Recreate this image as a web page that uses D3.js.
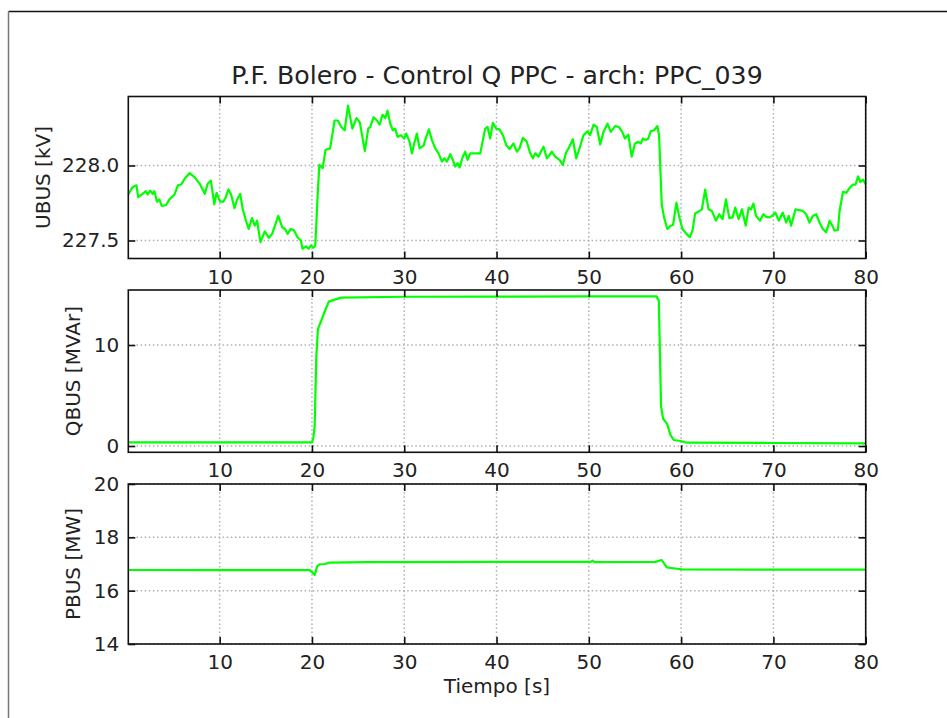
<!DOCTYPE html>
<html>
<head>
<meta charset="utf-8">
<script src="https://cdn.jsdelivr.net/npm/d3@7"></script>
<style>
  body { margin: 0; background: #fff; }
  svg { display: block; }
  text { font-family: "DejaVu Sans", sans-serif; fill: #222; }
</style>
</head>
<body>
<div id="chart"></div>
<script>
// UBUS [kV] samples: time (s) and voltage
var uTime = [0.1, 0.55, 0.99, 1.17, 1.64, 2.0, 2.19, 2.48, 2.74, 2.92, 3.21, 3.47, 3.72, 4.2, 4.56, 5.11, 5.47, 5.84, 6.2, 6.75,
  7.3, 7.85, 8.39, 8.69, 9.05, 9.42, 9.67, 10.04, 10.4, 10.66, 10.95, 11.24, 11.61, 11.86, 12.23, 12.48, 12.85, 13.14, 13.5, 13.8,
  14.05, 14.42, 14.89, 15.33, 15.69, 16.35, 16.79, 17.08, 17.37, 17.7, 18.07, 18.43, 18.8, 18.98, 19.34, 19.64, 19.89, 20.15, 20.36, 20.62,
  20.8, 21.17, 21.46, 21.97, 22.45, 22.81, 23.18, 23.54, 23.91, 24.38, 24.82, 25.18, 25.73, 26.1, 26.32, 26.68, 27.04, 27.33, 27.65, 27.94,
  28.19, 28.48, 28.77, 29.02, 29.28, 29.64, 30.0, 30.22, 30.58, 30.83, 31.08, 31.37, 31.66, 32.09, 32.38, 32.67, 33.0, 33.36, 33.72, 34.08,
  34.33, 34.62, 34.98, 35.27, 35.52, 35.78, 35.99, 36.35, 36.61, 36.86, 37.15, 37.69, 38.23, 38.77, 39.03, 39.31, 39.6, 39.96, 40.32, 40.69,
  41.05, 41.41, 41.84, 42.2, 42.49, 42.85, 43.28, 43.65, 43.94, 44.19, 44.55, 44.8, 45.09, 45.45, 45.74, 45.99, 46.35, 46.82, 47.18, 47.55,
  47.8, 47.98, 48.27, 48.63, 48.99, 49.42, 49.86, 50.14, 50.51, 50.87, 51.23, 51.59, 52.02, 52.38, 52.85, 53.26, 53.62, 53.91, 54.28, 54.64,
  55.0, 55.36, 55.62, 55.87, 56.16, 56.45, 56.7, 57.07, 57.43, 57.61, 57.9, 58.15, 58.51, 58.88, 59.13, 59.49, 59.78, 60.14, 60.58, 60.94,
  61.23, 61.52, 61.88, 62.25, 62.61, 62.97, 63.33, 63.77, 64.13, 64.49, 64.86, 65.22, 65.58, 65.87, 66.23, 66.59, 67.0, 67.32, 67.57, 67.83,
  68.12, 68.55, 68.91, 69.2, 69.57, 69.86, 70.22, 70.58, 71.01, 71.38, 71.67, 71.92, 72.39, 72.75, 73.19, 73.55, 73.91, 74.28, 74.64, 75.0,
  75.36, 75.72, 76.09, 76.38, 76.63, 76.99, 77.17, 77.54, 77.9, 78.26, 78.62, 78.91, 79.17, 79.42, 79.71, 80.0];
var uValue = [227.807, 227.855, 227.868, 227.789, 227.811, 227.829, 227.807, 227.833, 227.811, 227.829, 227.759, 227.774, 227.730, 227.737, 227.774, 227.807, 227.868, 227.873, 227.912, 227.950,
  227.921, 227.877, 227.811, 227.877, 227.899, 227.741, 227.818, 227.759, 227.759, 227.789, 227.840, 227.807, 227.715, 227.768, 227.811, 227.715, 227.632, 227.577, 227.649, 227.599,
  227.632, 227.489, 227.561, 227.518, 227.544, 227.664, 227.588, 227.577, 227.544, 227.577, 227.566, 227.522, 227.500, 227.445, 227.461, 227.445, 227.467, 227.452, 227.467, 227.807,
  228.004, 227.982, 228.103, 228.114, 228.300, 228.300, 228.257, 228.235, 228.399, 228.246, 228.316, 228.289, 228.096, 228.246, 228.257, 228.322, 228.300, 228.272, 228.338, 228.316,
  228.366, 228.279, 228.235, 228.246, 228.191, 228.202, 228.180, 228.213, 228.158, 228.081, 228.147, 228.213, 228.114, 228.132, 228.191, 228.241, 228.169, 228.114, 228.081, 228.026,
  228.048, 228.026, 228.075, 228.037, 227.993, 228.015, 227.987, 228.059, 228.092, 228.037, 228.081, 228.081, 228.081, 228.246, 228.257, 228.180, 228.285, 228.246, 228.241, 228.202,
  228.136, 228.110, 228.147, 228.092, 228.114, 228.184, 228.158, 228.081, 228.048, 228.081, 228.059, 228.092, 228.125, 228.048, 228.070, 228.092, 228.059, 228.037, 228.004, 228.088,
  228.114, 228.136, 228.175, 228.048, 228.114, 228.202, 228.228, 228.202, 228.272, 228.257, 228.140, 228.224, 228.279, 228.224, 228.263, 228.257, 228.224, 228.180, 228.206, 228.059,
  228.147, 228.158, 228.147, 228.180, 228.169, 228.180, 228.228, 228.235, 228.263, 228.202, 227.741, 227.654, 227.577, 227.599, 227.605, 227.752, 227.664, 227.577, 227.544, 227.522,
  227.566, 227.680, 227.693, 227.708, 227.840, 227.708, 227.697, 227.632, 227.675, 227.643, 227.774, 227.649, 227.654, 227.719, 227.643, 227.708, 227.599, 227.719, 227.708, 227.746,
  227.664, 227.632, 227.675, 227.658, 227.654, 227.664, 227.686, 227.632, 227.686, 227.620, 227.664, 227.599, 227.708, 227.702, 227.697, 227.675, 227.620, 227.664, 227.675, 227.620,
  227.577, 227.555, 227.632, 227.599, 227.566, 227.570, 227.697, 227.825, 227.818, 227.851, 227.873, 227.873, 227.928, 227.890, 227.906, 227.873];

// QBUS [MVAr] samples
var qTime = [0.1, 5, 10, 15, 20.0, 20.15, 20.29, 20.47, 20.65, 21.0, 21.37, 21.83, 22.45, 23.17, 30, 40, 50, 57.33, 57.58, 57.69,
  57.83, 58.05, 58.48, 58.84, 59.2, 59.93, 60.65, 70, 80];
var qValue = [0.36, 0.36, 0.37, 0.36, 0.36, 0.8, 1.9, 8.8, 11.6, 12.4, 13.3, 14.3, 14.5, 14.7, 14.78, 14.8, 14.82, 14.82, 14.4, 9.8,
  3.9, 2.7, 2.2, 1.1, 0.6, 0.5, 0.33, 0.3, 0.26];

// PBUS [MW] samples
var pTime = [0.1, 10, 19.75, 20.2, 20.3, 20.55, 20.83, 21.4, 21.9, 26, 40, 50.2, 50.4, 50.6, 57.2, 57.9, 58.44, 59.35, 60.05, 70, 80];
var pValue = [16.775, 16.77, 16.775, 16.63, 16.59, 16.9, 16.99, 17.0, 17.05, 17.07, 17.08, 17.08, 17.13, 17.07, 17.08, 17.15, 16.875, 16.83, 16.8, 16.79, 16.79];

var xTicks = [10, 20, 30, 40, 50, 60, 70, 80];
var uTicks = [227.5, 228.0];
var qTicks = [0, 10];
var pTicks = [14, 16, 18, 20];

var W = 947, H = 718;
var svg = d3.select('#chart').append('svg').attr('width', W).attr('height', H);

// figure edge
svg.append('line').attr('x1', 8.5).attr('x2', W).attr('y1', 11.5).attr('y2', 11.5).attr('stroke', '#111').attr('stroke-width', 1.5);
svg.append('line').attr('x1', 8.5).attr('x2', 8.5).attr('y1', 11.5).attr('y2', H).attr('stroke', '#777').attr('stroke-width', 1.5);

var left = 128.3, right = 865.7;
var x = d3.scaleLinear().domain([0.1, 80]).range([left, right]);

var panels = [
  { top: 96.5, bottom: 258.5, domain: [227.38, 228.46], ticks: uTicks, fmt: d3.format('.1f'), label: 'UBUS [kV]', labelX: 42.5, t: uTime, v: uValue },
  { top: 290, bottom: 452.3, domain: [-0.62, 15.45], ticks: qTicks, fmt: d3.format('d'), label: 'QBUS [MVAr]', labelX: 72.5, t: qTime, v: qValue },
  { top: 484, bottom: 644, domain: [14, 20], ticks: pTicks, fmt: d3.format('d'), label: 'PBUS [MW]', labelX: 72.5, t: pTime, v: pValue }
];

panels.forEach(function(p) {
  var y = d3.scaleLinear().domain(p.domain).range([p.bottom, p.top]);
  var h = p.bottom - p.top;
  var g = svg.append('g');

  // dotted grid
  g.selectAll('.gx').data(xTicks).enter().append('line')
    .attr('x1', function(d) { return x(d); }).attr('x2', function(d) { return x(d); })
    .attr('y1', p.top).attr('y2', p.bottom)
    .attr('stroke', '#b0b0b0').attr('stroke-width', 1.5).attr('stroke-dasharray', '1.5,2.6');
  g.selectAll('.gy').data(p.ticks).enter().append('line')
    .attr('x1', left).attr('x2', right)
    .attr('y1', function(d) { return y(d); }).attr('y2', function(d) { return y(d); })
    .attr('stroke', '#b0b0b0').attr('stroke-width', 1.5).attr('stroke-dasharray', '1.5,2.6');

  // signal
  var pts = p.t.map(function(t, i) { return [t, p.v[i]]; });
  var line = d3.line().x(function(d) { return x(d[0]); }).y(function(d) { return y(d[1]); });
  g.append('path').datum(pts).attr('d', line)
    .attr('fill', 'none').attr('stroke', '#00ff00').attr('stroke-width', 2.2).attr('stroke-linejoin', 'round');

  // axes with inward ticks on all four sides
  var ax = [
    g.append('g').attr('transform', 'translate(0,' + p.bottom + ')')
      .call(d3.axisBottom(x).tickValues(xTicks).tickSizeInner(-7).tickSizeOuter(0).tickPadding(11)),
    g.append('g').attr('transform', 'translate(0,' + p.top + ')')
      .call(d3.axisTop(x).tickValues(xTicks).tickSizeInner(-7).tickSizeOuter(0).tickFormat('')),
    g.append('g').attr('transform', 'translate(' + left + ',0)')
      .call(d3.axisLeft(y).tickValues(p.ticks).tickFormat(p.fmt).tickSizeInner(-7).tickSizeOuter(0).tickPadding(9)),
    g.append('g').attr('transform', 'translate(' + right + ',0)')
      .call(d3.axisRight(y).tickValues(p.ticks).tickSizeInner(-7).tickSizeOuter(0).tickFormat(''))
  ];
  ax.forEach(function(a) {
    a.select('.domain').remove();
    a.selectAll('line').attr('stroke', '#111').attr('stroke-width', 1.6);
    a.selectAll('text').attr('font-size', 20).attr('font-family', '"DejaVu Sans", sans-serif').attr('fill', '#222');
  });

  // spines
  g.append('rect').attr('x', left).attr('y', p.top).attr('width', right - left).attr('height', h)
    .attr('fill', 'none').attr('stroke', '#111').attr('stroke-width', 1.6);

  svg.append('text').attr('transform', 'translate(' + p.labelX + ',' + (p.top + h / 2) + ') rotate(-90)')
    .attr('text-anchor', 'middle').attr('dy', '0.35em').attr('font-size', 20).text(p.label);
});

svg.append('text').attr('x', (left + right) / 2).attr('y', 84).attr('text-anchor', 'middle')
  .attr('font-size', 25.2).text('P.F. Bolero - Control Q PPC - arch: PPC_039');
svg.append('text').attr('x', (left + right) / 2).attr('y', 693).attr('text-anchor', 'middle')
  .attr('font-size', 20).text('Tiempo [s]');
</script>
</body>
</html>
